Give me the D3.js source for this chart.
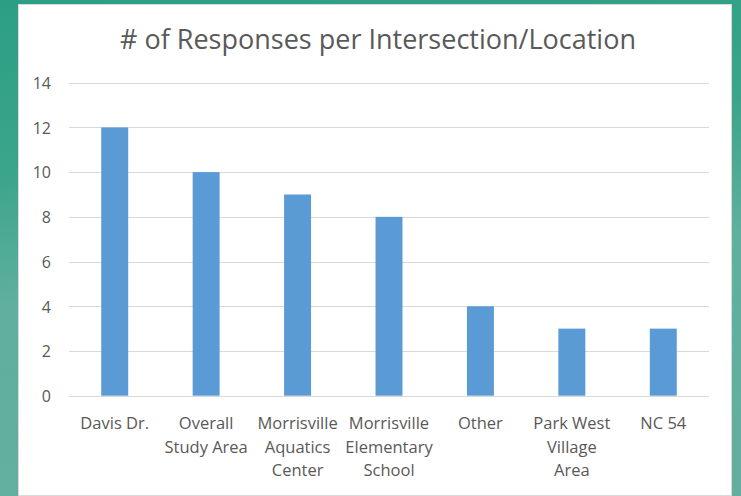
<!DOCTYPE html>
<html>
<head>
<meta charset="utf-8">
<script src="https://cdn.jsdelivr.net/npm/d3@7"></script>
<style>
  html, body { margin: 0; padding: 0; }
  body { width: 741px; height: 496px; overflow: hidden; }
  svg text { font-family: "Open Sans", "Noto Sans", sans-serif; fill: #595959; }
</style>
</head>
<body>
<svg id="chart" width="741" height="496"></svg>
<script>
// data
const categories = [
  ['Davis Dr.'],
  ['Overall', 'Study Area'],
  ['Morrisville', 'Aquatics', 'Center'],
  ['Morrisville', 'Elementary', 'School'],
  ['Other'],
  ['Park West', 'Village', 'Area'],
  ['NC 54']
];
const responses = [12, 10, 9, 8, 4, 3, 3];
const yTicks = [0, 2, 4, 6, 8, 10, 12, 14];
const title = '# of Responses per Intersection/Location';

const W = 741, H = 496;
const PANEL = { x: 18, y: 4, w: 714, h: 491 };
const PLOT = { left: 69, right: 709, top: 82.7, bottom: 395.7 };

const svg = d3.select('#chart');
const defs = svg.append('defs');
const grad = defs.append('linearGradient').attr('id', 'bg').attr('x1', 0).attr('y1', 0).attr('x2', 0.15).attr('y2', 1);
grad.append('stop').attr('offset', '0%').attr('stop-color', '#2b9f84');
grad.append('stop').attr('offset', '35%').attr('stop-color', '#3ca58a');
grad.append('stop').attr('offset', '60%').attr('stop-color', '#5fb09c');
grad.append('stop').attr('offset', '100%').attr('stop-color', '#63aea0');

// background + white panel
svg.append('rect').attr('width', W).attr('height', H).attr('fill', 'url(#bg)');
svg.append('rect')
  .attr('x', PANEL.x + 0.5).attr('y', PANEL.y + 0.5)
  .attr('width', PANEL.w - 1).attr('height', PANEL.h)
  .attr('fill', '#ffffff').attr('stroke', '#d9d9d9');

const x = d3.scaleBand()
  .domain(d3.range(categories.length))
  .range([PLOT.left, PLOT.right])
  .paddingInner(0.705).paddingOuter(0.3525);
const y = d3.scaleLinear().domain([0, 14]).range([PLOT.bottom, PLOT.top]);

// gridlines
svg.append('g').selectAll('line').data(yTicks).join('line')
  .attr('x1', PLOT.left).attr('x2', PLOT.right)
  .attr('y1', (d) => Math.round(y(d)) + 0.5).attr('y2', (d) => Math.round(y(d)) + 0.5)
  .attr('stroke', '#d9d9d9').attr('stroke-width', 1);

// y axis labels
const yAxis = svg.append('g').attr('transform', `translate(${PLOT.left - 18},0)`)
  .call(d3.axisLeft(y).tickValues(yTicks).tickSize(0).tickPadding(0));
yAxis.select('.domain').remove();
yAxis.selectAll('text')
  .attr('font-size', 16).attr('font-family', null).attr('fill', '#595959')
  .attr('dy', '0.36em');

// bars
svg.append('g').selectAll('rect').data(responses).join('rect')
  .attr('x', (d, i) => x(i))
  .attr('width', x.bandwidth())
  .attr('y', (d) => y(d))
  .attr('height', (d) => y(0) - y(d))
  .attr('fill', '#5b9bd5');

// category labels
const xl = svg.append('g');
categories.forEach((lines, i) => {
  const cx = x(i) + x.bandwidth() / 2;
  const t = xl.append('text')
    .attr('x', cx)
    .attr('y', 429)
    .attr('text-anchor', 'middle')
    .attr('font-size', 16.5);
  lines.forEach((s, k) => {
    t.append('tspan').attr('x', cx).attr('dy', k === 0 ? 0 : 23.7).text(s);
  });
});

// title
svg.append('text')
  .attr('x', 378).attr('y', 49)
  .attr('text-anchor', 'middle')
  .attr('font-size', 27)
  .text(title);
</script>
</body>
</html>
